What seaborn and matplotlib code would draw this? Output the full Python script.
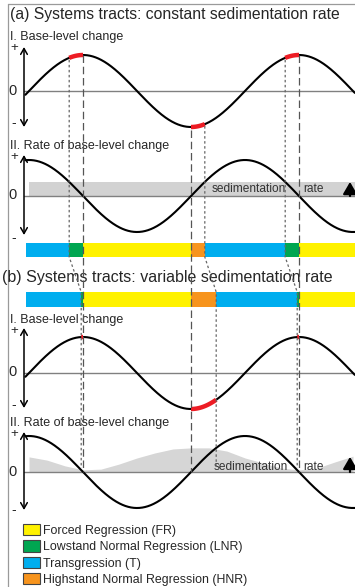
import numpy as np
import matplotlib.pyplot as plt
import seaborn as sns
from matplotlib.patches import Patch
from matplotlib.lines import Line2D

sns.set_theme(style="white")
plt.rcParams["font.family"] = ["Liberation Sans", "DejaVu Sans"]

# ---- data (time in degrees of one base-level cycle) ----
t_end = 543
sed_const = 0.39          # constant sedimentation rate, in units of base-level rate amplitude
sed_t = [0, 30, 60, 90, 120, 150, 180, 210, 240, 270, 300, 330, 360, 390, 420, 450, 480, 510, 540]
sed_var = [0.42, 0.33, 0.17, 0.06, 0.08, 0.22, 0.39, 0.53, 0.64, 0.67, 0.67, 0.58, 0.39,
           0.25, 0.11, 0.06, 0.11, 0.28, 0.44]

tract_keys = ["FR", "LNR", "T", "HNR"]
tract_labels = ["Forced Regression (FR)", "Lowstand Normal Regression (LNR)",
                "Transgression (T)", "Highstand Normal Regression (HNR)"]
tract_colors = ["#fff200", "#00a651", "#00aeef", "#f7941d"]

bar_a_edges = [-5, 67, 90, 270, 293, 427, 450, 543]
bar_b_edges = [-5, 87, 90, 270, 312, 447, 450, 543]
bar_tracts = ["T", "LNR", "FR", "HNR", "T", "LNR", "FR"]

dashed_t = [90, 270, 450]
dotted_a = [67, 293, 427]
dotted_b = [87, 312, 447]

W, H = 355, 587
AMP = 36.0  # px per unit amplitude
XL = ((24 - 29) / 0.6, (355 - 29) / 0.6)

fig = plt.figure(figsize=(W / 100, H / 100), dpi=100)
fig.patch.set_facecolor("white")

t = np.linspace(-6, t_end, 700)
level = np.sin(np.radians(t))
rate = np.cos(np.radians(t))


def panel(top, bottom, zero):
    ax = fig.add_axes([24 / W, 1 - bottom / H, (355 - 24) / W, (bottom - top) / H])
    ax.set_xlim(XL)
    ax.set_ylim(-(bottom - zero) / AMP, (zero - top) / AMP)
    ax.axis("off")
    ax.axhline(0, color="#808080", lw=1.0, zorder=2)
    ax.annotate("", xy=(XL[0], ax.get_ylim()[1]), xytext=(XL[0], ax.get_ylim()[0]),
                arrowprops=dict(arrowstyle="<->, head_length=0.35, head_width=0.2",
                                color="black", lw=1.1, shrinkA=0, shrinkB=0),
                annotation_clip=False)
    return ax


def signs(yp, y0, ym):
    fig.text(14 / W, 1 - yp / H, "+", fontsize=9.5, ha="center", va="center")
    fig.text(12.5 / W, 1 - y0 / H, "0", fontsize=10.5, ha="center", va="center")
    fig.text(14 / W, 1 - ym / H, "-", fontsize=10, ha="center", va="center")


def tract_bar(top, bottom, edges):
    ax = fig.add_axes([24 / W, 1 - bottom / H, (355 - 24) / W, (bottom - top) / H])
    ax.set_xlim(XL)
    ax.set_ylim(-0.5, 0.5)
    ax.axis("off")
    left = np.array(edges[:-1])
    width = np.diff(edges)
    cols = [tract_colors[tract_keys.index(k)] for k in bar_tracts]
    ax.barh(0, width, left=left, height=1.0, color=cols, edgecolor="none")
    return ax


def red_parts(ax, starts, ends):
    for s, e in zip(starts, ends):
        tt = np.linspace(s, e, 40)
        ax.plot(tt, np.sin(np.radians(tt)), color="#ed1c24", lw=3.2,
                solid_capstyle="butt", zorder=4, clip_on=False)


# ---- (a) constant sedimentation ----
fig.text(10 / W, 1 - 14 / H, "(a) Systems tracts: constant sedimentation rate",
         fontsize=11.3, va="center")
fig.text(10 / W, 1 - 37 / H, "I. Base-level change", fontsize=9, va="center")
ax1 = panel(47, 127, 91)
sns.lineplot(x=t, y=level, ax=ax1, color="black", lw=1.5, clip_on=False)
red_parts(ax1, dotted_a, dashed_t)
signs(48, 91, 123)

fig.text(10 / W, 1 - 146 / H, "II. Rate of base-level change", fontsize=9, va="center")
ax2 = panel(155, 235, 196)
ax2.fill_between([0, t_end], 0, sed_const, color="#d2d2d2", lw=0, zorder=1)
sns.lineplot(x=t, y=rate, ax=ax2, color="black", lw=1.5, clip_on=False)
ax2.text(305, sed_const / 2, "sedimentation", fontsize=8.6, color="#333333", va="center")
ax2.text(457, sed_const / 2, "rate", fontsize=8.6, color="#333333", va="center")
ax2.annotate("", xy=(535, sed_const), xytext=(535, 0),
             arrowprops=dict(arrowstyle="-|>, head_length=0.6, head_width=0.35",
                             color="black", lw=1.6, shrinkA=0, shrinkB=0))
signs(157, 195, 238)

tract_bar(243, 257, bar_a_edges)

# ---- (b) variable sedimentation ----
fig.text(2 / W, 1 - 278 / H, "(b) Systems tracts: variable sedimentation rate",
         fontsize=11.5, va="center")
tract_bar(292, 307, bar_b_edges)

fig.text(10 / W, 1 - 320 / H, "I. Base-level change", fontsize=9, va="center")
ax3 = panel(328, 408, 373)
sns.lineplot(x=t, y=level, ax=ax3, color="black", lw=1.5, clip_on=False)
red_parts(ax3, dotted_b, dashed_t)
signs(331, 372, 405)

fig.text(10 / W, 1 - 423 / H, "II. Rate of base-level change", fontsize=9, va="center")
ax4 = panel(432, 510, 472)
ax4.fill_between(sed_t, 0, sed_var, color="#d6d6d6", lw=0, zorder=1)
sns.lineplot(x=t, y=rate, ax=ax4, color="black", lw=1.5, clip_on=False)
ax4.text(308, 0.14, "sedimentation", fontsize=8.6, color="#333333", va="center")
ax4.text(457, 0.14, "rate", fontsize=8.6, color="#333333", va="center")
ax4.annotate("", xy=(535, 0.42), xytext=(535, 0),
             arrowprops=dict(arrowstyle="-|>, head_length=0.6, head_width=0.35",
                             color="black", lw=1.6, shrinkA=0, shrinkB=0))
signs(434, 472, 510)

# ---- connecting guide lines (overlay, y in pixels) ----
ov = fig.add_axes([24 / W, 0, (355 - 24) / W, 1], zorder=10)
ov.set_xlim(XL)
ov.set_ylim(H, 0)
ov.axis("off")
ov.patch.set_alpha(0)


def a1_px(tt):
    return 91 - AMP * np.sin(np.radians(tt))


for tt in dashed_t:
    y0 = a1_px(tt) + (3 if np.sin(np.radians(tt)) < 0 else 0)
    ov.plot([tt, tt], [y0, 472], color="#555555", lw=0.9, ls=(0, (6, 3)))

for ta, tb in zip(dotted_a, dotted_b):
    ov.plot([ta, ta, tb, tb], [a1_px(ta) + 2, 257, 292, 468],
            color="#666666", lw=0.9, ls=(0, (2, 2)))

# ---- legend ----
handles = [Patch(facecolor=c, edgecolor="#444444", lw=0.8, label=l)
           for c, l in zip(tract_colors, tract_labels)]
fig.legend(handles=handles, loc="upper left", bbox_to_anchor=(23 / W, 1 - 524 / H),
           frameon=False, fontsize=8.9, handlelength=1.35, handleheight=1.0,
           handletextpad=0.3, labelspacing=0.3, borderpad=0, borderaxespad=0)

# ---- frame ----
fig.add_artist(Line2D([8 / W, 8 / W], [0, 1 - 4 / H], transform=fig.transFigure,
                      color="#9a9a9a", lw=0.9))
fig.add_artist(Line2D([8 / W, 1], [1 - 4 / H, 1 - 4 / H], transform=fig.transFigure,
                      color="#9a9a9a", lw=0.9))

fig.savefig("out.png", dpi=100)
